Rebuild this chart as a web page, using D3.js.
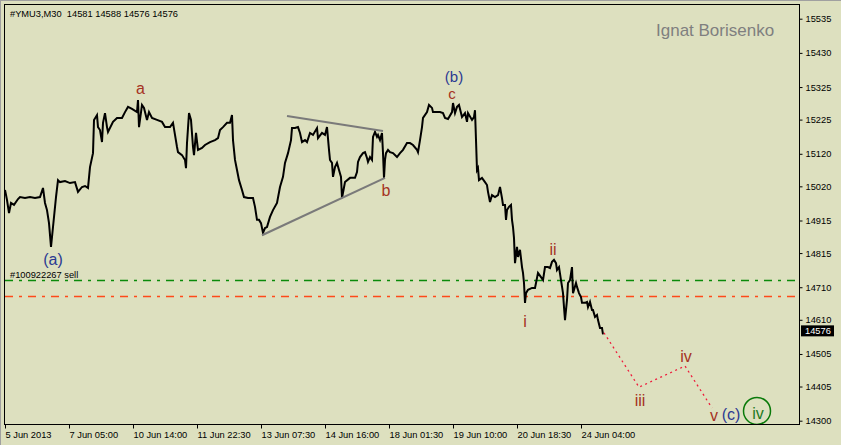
<!DOCTYPE html>
<html><head><meta charset="utf-8">
<script src="https://cdn.jsdelivr.net/npm/d3@7"></script>
<style>
html,body{margin:0;padding:0;background:#DDE0BF;}
svg{display:block;}
text{font-family:"Liberation Sans",Arial,sans-serif;}
</style></head><body>
<svg id="c" width="841" height="445"></svg>
<script>
// ---- data ----
const priceBars=[0,2,4,6,9,13,15,20,25,30,35,38,40,42,44,46,48,51,53,55,60,65,70,73,77,80,83,85,88,89,92,93,95,97,98,100,102,103,108,112,117,120,123,127,132,133,134,137,139,142,144,147,152,157,160,165,168,170,172,173,177,180,181,182,184,186,188,189,191,193,197,200,205,210,213,215,218,222,225,227,228,230,232,234,237,239,243,248,250,252,254,
256,258,260,262,265,268,272,275,278,280,283,286,287,290,293,295,297,300,302,305,308,312,313,317,320,322,324,325,327,328,330,332,334,336,337,340,345,350,352,353,355,358,360,362,363,365,367,368,370,372,373,375,377,378,379,380,381,383,385,388,392,395,398,402,405,408,412,413,415,417,418,422,424,427,428,432,435,438,440,443,447,448,450,452,454,457,460,462,463,467,469,470,471,472,473,474,477,480,482,483,485,487,490,493,495,497,498,500,501,502,504,506,507,508,509,510,512,513,515,517,518,519,520,521,523,527,530,531,533,536,538,540,543,545,547,549,551,552,554,556,558,559,560,562,563,565,567,568,569,571,572,574,576,577,580,582,583,585,587,588,590,592,593,595,597,598];
const priceValues=[15009,14978,14938,14969,14963,14981,14987,14984,14987,14984,14987,15015,14969,14947,14907,14834,14895,14987,15039,15033,15036,15030,15033,15003,15018,15021,15015,15079,15122,15224,15239,15202,15193,15156,15215,15245,15202,15187,15218,15230,15230,15248,15264,15258,15248,15285,15202,15270,15261,15224,15248,15230,15224,15218,15202,15202,15215,15178,15141,15125,15116,15101,15076,15153,15245,15224,15141,15116,15184,15132,15138,15147,15156,15162,15168,15193,15202,15215,15215,15239,15162,15101,15070,15039,15009,14987,14984,14984,14957,14917,14917,
14907,14877,14892,14895,14926,14947,14969,15018,15049,15092,15122,15162,15199,15199,15202,15184,15156,15162,15156,15184,15178,15199,15168,15184,15178,15202,15132,15101,15092,15049,15079,15092,15070,15049,14984,15033,15046,15046,15064,15095,15110,15122,15125,15107,15095,15110,15101,15172,15187,15172,15178,15162,15184,15122,15046,15101,15122,15132,15125,15122,15110,15122,15132,15153,15153,15147,15132,15125,15162,15202,15230,15248,15270,15261,15248,15248,15248,15245,15230,15227,15248,15276,15245,15264,15270,15233,15245,15218,15245,15224,15233,15254,15162,15070,15076,15039,15046,15033,15024,15003,14972,14993,14987,14993,15018,14984,14963,14963,14917,14947,14957,14963,14917,14895,14861,14784,14834,14803,14825,14772,14754,14723,14662,14692,14702,14708,14708,14723,14754,14741,14732,14772,14772,14769,14788,14794,14784,14763,14772,14732,14692,14649,14609,14671,14723,14732,14772,14692,14702,14723,14711,14692,14680,14662,14662,14665,14649,14665,14640,14640,14619,14625,14609,14585,14585,14565];
const projBars=[599,634,680,707];
const projValues=[14570,14403,14468,14339];
const triUpperBars=[282,378], triUpperValues=[15236,15190];
const triLowerBars=[257,380], triLowerValues=[14870,15046];
const orderLevels=[14732,14682];
const yTickValues=[15535,15430,15325,15225,15120,15020,14915,14815,14710,14610,14505,14405,14300];
const xTickBars=[0,64,128,192,256,320,384,448,512,576];
const xTickLabels=["5 Jun 2013","7 Jun 05:00","10 Jun 14:00","11 Jun 22:30","13 Jun 07:30","14 Jun 16:00","18 Jun 01:30","19 Jun 10:00","20 Jun 18:30","24 Jun 04:00"];
const waveTexts=["(a)","a","(b)","c","b","i","ii","iii","iv","v","(c)","iv"];
const waveBars=[48,135.5,449,447,381,520,548,635,681,709,726,753];
const waveValues=[14778,15304,15340,15288,14989,14588,14809,14345,14480,14299,14302,14305];
const waveDegree=["major","minor","major","minor","minor","minor","minor","minor","minor","minor","major","circle"];
const circleBar=752, circleValue=14330;
const lastPrice=14576;
const headerText="#YMU3,M30  14581 14588 14576 14576";
const orderText="#100922267 sell";
const authorText="Ignat Borisenko";

// ---- layout ----
const L=5,R=799,T=5,B=424;
const svg=d3.select("#c");
const x=d3.scaleLinear().domain([0,794]).range([L,R]);
const y=d3.scaleLinear().domain([14300,15535]).range([420.7,18.7]);

svg.append("rect").attr("width",841).attr("height",445).attr("fill","#DDE0BF");
svg.append("line").attr("x1",0).attr("x2",841).attr("y1",0.5).attr("y2",0.5).attr("stroke","#A0A0A0");
svg.append("line").attr("x1",0.5).attr("x2",0.5).attr("y1",0).attr("y2",445).attr("stroke","#A0A0A0");

svg.append("defs").append("clipPath").attr("id","clip").append("rect")
  .attr("x",L).attr("y",T).attr("width",R-L).attr("height",B-T);
const g=svg.append("g").attr("clip-path","url(#clip)");

const colMajor="#2B3A92", colMinor="#A53323", colCircle="#1E7A1E";

// order levels
g.selectAll(".lvl").data(orderLevels).enter().append("line")
  .attr("x1",L).attr("x2",R)
  .attr("y1",d=>Math.round(y(d))+0.5).attr("y2",d=>Math.round(y(d))+0.5)
  .attr("stroke",(d,i)=>i===0?"#0A8A0A":"#FF4A1A")
  .attr("stroke-width",1.3)
  .attr("stroke-dasharray","8,6,3,6");

// price line
const pts=priceBars.map((b,i)=>[b,priceValues[i]]);
const line=d3.line().x(d=>x(d[0])).y(d=>y(d[1]));
g.append("path").datum(pts).attr("d",line).attr("fill","none")
  .attr("stroke","#000").attr("stroke-width",2).attr("stroke-linejoin","miter");

// triangle
[[triUpperBars,triUpperValues],[triLowerBars,triLowerValues]].forEach(([bs,vs])=>{
  g.append("line").attr("x1",x(bs[0])).attr("y1",y(vs[0])).attr("x2",x(bs[1])).attr("y2",y(vs[1]))
   .attr("stroke","#7A7A7A").attr("stroke-width",2.2);
});

// projection
const proj=projBars.map((b,i)=>[b,projValues[i]]);
g.append("path").datum(proj).attr("d",line).attr("fill","none")
  .attr("stroke","#EE1C3C").attr("stroke-width",1.3).attr("stroke-dasharray","2,3.5");

// wave labels
g.selectAll(".wl").data(waveTexts).enter().append("text")
  .attr("x",(d,i)=>x(waveBars[i])).attr("y",(d,i)=>y(waveValues[i]))
  .attr("text-anchor","middle")
  .attr("font-size",(d,i)=>(i===2||i===3)?"15px":"16px")
  .attr("fill",(d,i)=>waveDegree[i]==="major"?colMajor:waveDegree[i]==="circle"?colCircle:colMinor)
  .text(d=>d);
g.append("circle").attr("cx",x(circleBar)).attr("cy",y(circleValue)).attr("r",13.5)
  .attr("fill","none").attr("stroke","#0A7A0A").attr("stroke-width",1.5);

// texts
svg.append("text").attr("x",10).attr("y",16.5).attr("font-size","9.3px").attr("fill","#000")
  .style("white-space","pre").attr("xml:space","preserve").text(headerText);
svg.append("text").attr("x",10).attr("y",277.5).attr("font-size","9.3px").attr("fill","#000").text(orderText);
svg.append("text").attr("x",656).attr("y",36).attr("font-size","17px").attr("fill","#7F7F7F").text(authorText);

// frame
svg.append("rect").attr("x",4.5).attr("y",4.5).attr("width",795).attr("height",420)
  .attr("fill","none").attr("stroke","#000").attr("stroke-width",1);

// y axis
const ya=svg.append("g").attr("transform",`translate(${R+0.5},0)`)
  .call(d3.axisRight(y).tickValues(yTickValues).tickSize(3).tickPadding(3).tickFormat(d3.format("d")));
ya.select(".domain").remove();
ya.selectAll("text").attr("font-size","9.3px").attr("font-family","Liberation Sans, Arial, sans-serif").attr("fill","#000");
ya.selectAll("line").attr("stroke","#000");

// x axis
const xa=svg.append("g").attr("transform",`translate(0,${B+0.5})`)
  .call(d3.axisBottom(x).tickValues(xTickBars).tickSize(4).tickPadding(3).tickFormat((d,i)=>xTickLabels[i]));
xa.select(".domain").remove();
xa.selectAll("text").attr("text-anchor","start").attr("font-size","9.3px").attr("font-family","Liberation Sans, Arial, sans-serif").attr("fill","#000");
xa.selectAll("line").attr("stroke","#000");

// last price marker
const lp=svg.append("g");
lp.append("rect").attr("x",801).attr("y",y(lastPrice)-5.5).attr("width",33).attr("height",11).attr("fill","#000");
lp.append("text").attr("x",805).attr("y",y(lastPrice)).attr("dy","0.34em").attr("font-size","9.3px").attr("fill","#fff").text(lastPrice);
</script>
</body></html>
